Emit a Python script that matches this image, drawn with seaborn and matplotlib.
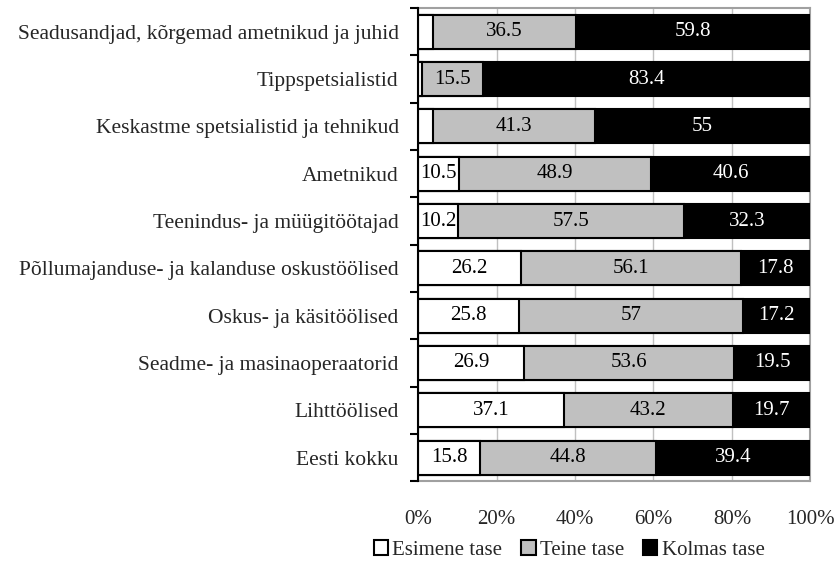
import matplotlib
matplotlib.use("Agg")
import matplotlib.pyplot as plt
import numpy as np
import pandas as pd
import seaborn as sns
from matplotlib.patches import Patch

categories = [
    "Seadusandjad, kõrgemad ametnikud ja juhid",
    "Tippspetsialistid",
    "Keskastme spetsialistid ja tehnikud",
    "Ametnikud",
    "Teenindus- ja müügitöötajad",
    "Põllumajanduse- ja kalanduse oskustöölised",
    "Oskus- ja käsitöölised",
    "Seadme- ja masinaoperaatorid",
    "Lihttöölised",
    "Eesti kokku",
]
esimene = [3.7, 1.1, 3.7, 10.5, 10.2, 26.2, 25.8, 26.9, 37.1, 15.8]
teine = [36.5, 15.5, 41.3, 48.9, 57.5, 56.1, 57, 53.6, 43.2, 44.8]
kolmas = [59.8, 83.4, 55, 40.6, 32.3, 17.8, 17.2, 19.5, 19.7, 39.4]
series_names = ["Esimene tase", "Teine tase", "Kolmas tase"]
colors = ["white", "#C0C0C0", "black"]
text_colors = ["black", "black", "white"]
xticks = [0, 20, 40, 60, 80, 100]

sns.set_theme(style="white")
plt.rcParams["font.family"] = ["Liberation Serif", "DejaVu Serif"]

df = pd.DataFrame({"cat": categories, "e": esimene, "t": teine, "k": kolmas})
df["c1"] = df["e"]
df["c2"] = df["e"] + df["t"]
df["c3"] = df["c2"] + df["k"]

fig = plt.figure(figsize=(8.38, 5.84), dpi=100)
ax = fig.add_axes([0.499, 0.176, 0.468, 0.810])

# layered cumulative bars: draw longest first
for col, color in zip(["c3", "c2", "c1"], colors[::-1]):
    sns.barplot(data=df, x=col, y="cat", order=categories, color=color,
                edgecolor="black", linewidth=1.5, width=0.72, orient="h",
                ax=ax, zorder=3, saturation=1)

# value labels (skip tiny segments like the source)
starts = [np.zeros(len(df)), df["c1"].values, df["c2"].values]
for vals, st, tc in zip([esimene, teine, kolmas], starts, text_colors):
    for i, (v, s) in enumerate(zip(vals, st)):
        if v < 5:
            continue
        ax.text(s + v / 2, i, f"{v:g}", ha="center", va="center",
                fontsize=15, color=tc, zorder=5)

ax.set_xlim(0, 100)
ax.set_ylim(len(categories) - 0.5, -0.5)
ax.set_xticks(xticks)
ax.set_xticklabels([f"{x}%" for x in xticks], fontsize=15)
ax.tick_params(axis="x", length=0, pad=21)
ax.set_yticks(range(len(categories)))
ax.set_yticklabels(categories, fontsize=15.5)
ax.set_yticks(np.arange(-0.5, len(categories)), minor=True)
ax.tick_params(axis="y", which="major", length=0, pad=14)
ax.tick_params(axis="y", which="minor", length=6, width=1.5, color="black", direction="out", left=True)
ax.set_xlabel("")
ax.set_ylabel("")
ax.xaxis.grid(True, color="#C0C0C0", linewidth=1, zorder=0)
ax.set_axisbelow(True)
for side in ["top", "right", "bottom"]:
    ax.spines[side].set_color("#A0A0A0")
    ax.spines[side].set_linewidth(1.5)
ax.spines["left"].set_color("black")
ax.spines["left"].set_linewidth(1.5)
ax.spines["left"].set_zorder(6)

handles = [Patch(facecolor=c, edgecolor="black", linewidth=1.5) for c in colors]
fig.legend(handles, series_names, loc="center", bbox_to_anchor=(0.679, 0.058),
           ncol=3, frameon=False, fontsize=15, handlelength=0.7, handleheight=0.7,
           handletextpad=0.2, columnspacing=0.9)

fig.savefig("out.png", dpi=100)
